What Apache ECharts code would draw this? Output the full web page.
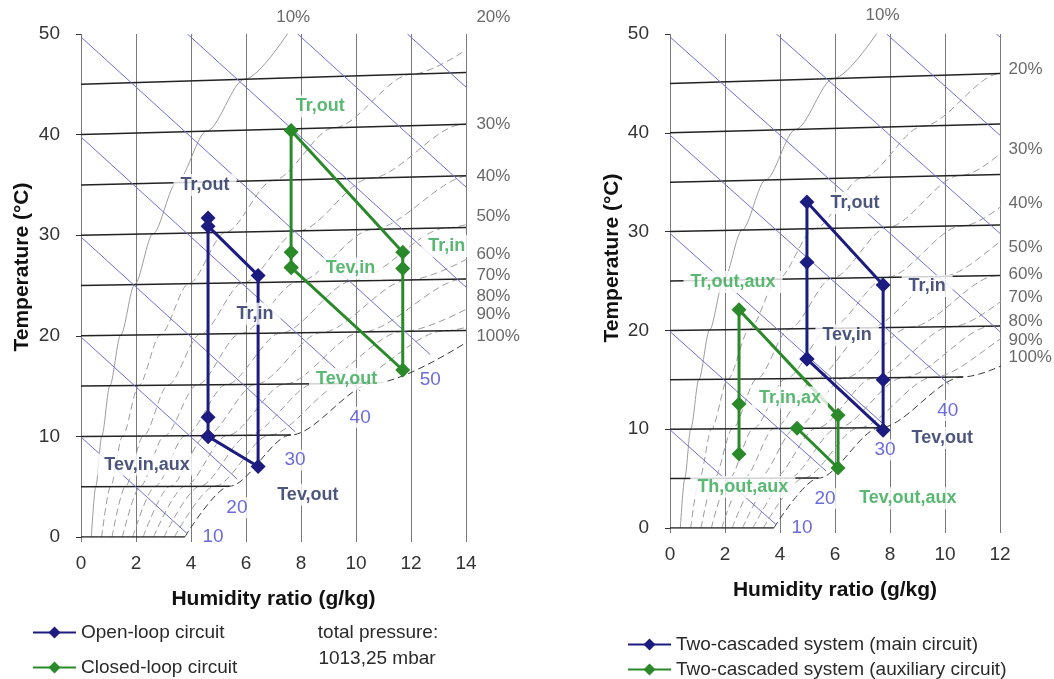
<!DOCTYPE html>
<html><head><meta charset="utf-8">
<script src="https://cdn.jsdelivr.net/npm/echarts@6/dist/echarts.min.js"></script>
<style>html,body{margin:0;padding:0;background:#fff}#c{width:1054px;height:679px}</style>
</head><body><div id="c"></div>
<script>
// ---------------- DATA ----------------
// relative-humidity curves [humidity ratio g/kg, temperature °C] (read/estimated)
const rhNames = ['10%','20%','30%','40%','50%','60%','70%','80%','90%','100%'];
const rh10 = [[0.375,0],[0.536,5.005],[0.755,10.014],[1.049,15.029],[1.439,20.053],[1.952,25.09],[2.618,30.145],[3.475,35.225],[4.566,40.338],[5.946,45.495],[7.676,50.71]];
const rh20 = [[0.751,0],[1.073,5.01],[1.512,10.028],[2.101,15.058],[2.885,20.107],[3.916,25.181],[5.258,30.292],[6.988,35.452],[9.2,40.68],[12.007,45.999],[15.544,51.437]];
const rh30 = [[1.128,0],[1.611,5.015],[2.27,10.042],[3.157,15.088],[4.338,20.16],[5.893,25.272],[7.92,30.439],[10.541,35.682],[13.903,41.028],[18.186,46.513]];
const rh40 = [[1.504,0],[2.15,5.02],[3.031,10.056],[4.217,15.117],[5.797,20.214],[7.882,25.364],[10.606,30.588],[14.135,35.915],[18.677,41.381]];
const rh50 = [[1.882,0],[2.69,5.025],[3.793,10.07],[5.28,15.146],[7.264,20.269],[9.884,25.457],[13.314,30.739],[17.77,36.15]];
const rh60 = [[2.259,0],[3.231,5.03],[4.557,10.084],[6.347,15.176],[8.737,20.323],[11.898,25.55],[16.045,30.89]];
const rh70 = [[2.638,0],[3.772,5.035],[5.323,10.098],[7.417,15.206],[10.217,20.378],[13.925,25.644],[18.8,31.043]];
const rh80 = [[3.016,0],[4.315,5.04],[6.091,10.113],[8.491,15.236],[11.704,20.433],[15.966,25.738]];
const rh90 = [[3.395,0],[4.859,5.045],[6.86,10.127],[9.569,15.265],[13.198,20.488],[18.019,25.833]];
const rh100 = [[3.775,0],[5.403,5.05],[7.632,10.141],[10.65,15.295],[14.699,20.544]];
const rhCurves = [rh10,rh20,rh30,rh40,rh50,rh60,rh70,rh80,rh90,rh100];

// isotherms (dry-bulb lines, 5 °C step)
const isothermsLeft = [
  [[0,0],[3.775,0]],[[0,5],[5.403,5.05]],[[0,10],[7.632,10.141]],[[0,15],[10.65,15.295]],
  [[0,20],[14,20.518]],[[0,25],[14,25.647]],[[0,30],[14,30.777]],[[0,35],[14,35.906]],
  [[0,40],[14,41.035]],[[0,45],[14,46.165]]
];
const isothermsRight = [
  [[0,0],[3.775,0]],[[0,5],[5.403,5.05]],[[0,10],[7.632,10.141]],[[0,15],[10.65,15.295]],
  [[0,20],[12,20.444]],[[0,25],[12,25.555]],[[0,30],[12,30.666]],[[0,35],[12,35.777]],
  [[0,40],[12,40.888]],[[0,45],[12,45.998]]
];
// enthalpy lines (10 kJ/kg step)
const enthalpyLeft = [
  [[0,9.94],[3.86,0.34]],[[0,19.88],[5.68,5.76]],[[0,29.82],[7.79,10.45]],[[0,39.76],[10.15,14.53]],
  [[0,49.70],[12.70,18.13]],[[3.87,50],[14,24.84]],[[7.88,50],[14,34.78]],[[11.87,50],[14,44.72]]
];
const enthalpyRight = [
  [[0,9.94],[3.86,0.34]],[[0,19.88],[5.68,5.76]],[[0,29.82],[7.79,10.45]],[[0,39.76],[10.15,14.53]],
  [[0,49.70],[12,19.87]],[[3.87,50],[12,29.81]],[[7.88,50],[12,39.75]],[[11.87,50],[12,49.69]]
];
const enthalpyNamesLeft = ['10','20','30','40','50'];
const enthalpyLabelPosLeft = [[4.8,0],[5.67,2.9],[7.78,7.65],[10.15,11.9],[12.7,15.6]];
const enthalpyNamesRight = ['10','20','30','40'];
const enthalpyLabelPosRight = [[4.8,0],[5.64,3.0],[7.82,7.9],[10.1,11.9]];

const rhLabelPosLeft = [[7.08,51.7],[14.36,51.7],[14.36,41.0],[14.36,35.9],[14.36,31.9],[14.36,28.1],[14.36,26.0],[14.36,23.9],[14.36,22.1],[14.36,19.9]];
const rhLabelPosRight = [[7.09,51.9],[12.29,46.4],[12.29,38.3],[12.29,32.9],[12.29,28.4],[12.29,25.7],[12.29,23.3],[12.29,20.9],[12.29,19.0],[12.29,17.3]];

// process points [humidity ratio g/kg, temperature °C]
const openLoop   = [[4.62,10.0],[4.62,11.9],[4.62,31.7],[4.62,30.9],[6.44,26.0],[6.44,7.0],[4.62,10.0]];
const closedLoop = [[7.64,26.8],[7.64,28.3],[7.64,40.4],[11.7,28.3],[11.7,26.7],[11.7,16.6],[7.64,26.8]];
const mainCircuit= [[4.98,17.1],[4.98,26.9],[4.98,33.0],[7.75,24.6],[7.75,15.0],[7.75,9.9],[4.98,17.1]];
const auxCircuit = [[2.51,7.5],[2.51,12.55],[2.51,22.1],[6.11,11.4],[6.11,6.07],[4.62,10.1]];

const seriesNames = ['Open-loop circuit','Closed-loop circuit','Two-cascaded system (main circuit)','Two-cascaded system (auxiliary circuit)'];

// point annotations
const navyLabelsLeft = ['Tr,out','Tr,in','Tev,in,aux','Tev,out'];
const navyLabelPosLeft = [[4.51,35.0],[6.33,22.2],[2.4,7.2],[8.25,4.2]];
const greenLabelsLeft = ['Tr,out','Tr,in','Tev,in','Tev,out'];
const greenLabelPosLeft = [[8.7,42.8],[13.3,28.9],[9.8,26.7],[9.66,15.7]];
const navyLabelsRight = ['Tr,out','Tr,in','Tev,in','Tev,out'];
const navyLabelPosRight = [[6.73,32.9],[9.35,24.5],[6.44,19.5],[9.9,9.1]];
const greenLabelsRight = ['Tr,out,aux','Tr,in,ax','Th,out,aux','Tev,out,aux'];
const greenLabelPosRight = [[2.29,24.9],[4.36,13.2],[2.65,4.15],[8.65,3.0]];

// ---------------- CHART ----------------
const FONT = '"Liberation Sans", Arial, sans-serif';
const NAVY = '#1c1c80', GREEN = '#2a8a2a';
const NAVY_T = '#1f2b5e', GREEN_T = '#2fa84f';

function bg(gi, isotherms, enthalpy) {
  const s = [];
  rhCurves.forEach((c, i) => s.push({
    type:'line', xAxisIndex:gi, yAxisIndex:gi, data:c, symbol:'none', smooth:0.3, smoothMonotone:'x',
    silent:true, z:2, clip:true,
    lineStyle:{color: i===9 ? '#3a3a3a' : '#9c9c9c', width:1, type: i===0 ? 'solid' : [7,4]}
  }));
  isotherms.forEach(seg => s.push({
    type:'line', xAxisIndex:gi, yAxisIndex:gi, data:seg, symbol:'none', silent:true, z:2, clip:true,
    lineStyle:{color:'#222', width:1.5}
  }));
  enthalpy.forEach(seg => s.push({
    type:'line', xAxisIndex:gi, yAxisIndex:gi, data:seg, symbol:'none', silent:true, z:2, clip:true,
    lineStyle:{color:'#6e6ed8', width:1}
  }));
  return s;
}
function labels(gi, names, pos, color, opts) {
  return Object.assign({
    type:'scatter', xAxisIndex:gi, yAxisIndex:gi, symbolSize:1, silent:true, z:8, clip:false,
    itemStyle:{color:'rgba(0,0,0,0)'},
    data: names.map((n,i)=>({name:n, value:pos[i]})),
    label:{show:true, position:'inside', formatter:'{b}', color:color, fontSize:18, fontWeight:'bold',
      fontFamily:FONT, backgroundColor:'#fff', padding:[2,7]}
  }, opts || {});
}
function rhLabels(gi, pos) {
  return {
    type:'scatter', xAxisIndex:gi, yAxisIndex:gi, symbolSize:1, silent:true, z:8, clip:false,
    itemStyle:{color:'rgba(0,0,0,0)'},
    data: rhNames.map((n,i)=>({name:n, value:pos[i]})),
    label:{show:true, position:'right', distance:0, formatter:'{b}', color:'#444', fontSize:17, fontFamily:FONT}
  };
}
function proc(gi, name, data, color) {
  return {type:'line', name:name, xAxisIndex:gi, yAxisIndex:gi, data:data, symbol:'diamond', symbolSize:15,
    showSymbol:true, color:color, itemStyle:{color:color}, lineStyle:{color:color, width:3}, z:5, clip:false};
}

const xAx = (gi, max) => ({
  gridIndex:gi, type:'value', min:0, max:max, interval:2,
  axisLine:{show:false}, axisTick:{show:true, length:5, lineStyle:{color:'#777'}},
  splitLine:{show:true, lineStyle:{color:'#7a7a7a', width:1}},
  axisLabel:{fontSize:19, color:'#333', margin:17, fontFamily:FONT},
  name:'Humidity ratio (g/kg)', nameLocation:'middle', nameGap:52,
  nameTextStyle:{fontSize:21, fontWeight:'bold', color:'#111', fontFamily:FONT}
});
const yAx = (gi) => ({
  gridIndex:gi, type:'value', min:0, max:50, interval:10,
  axisLine:{show:false}, axisTick:{show:true, length:5, lineStyle:{color:'#333'}},
  splitLine:{show:false},
  axisLabel:{fontSize:19, color:'#333', margin:21, fontFamily:FONT}
});

const legendBase = {orient:'horizontal', itemWidth:43, itemHeight:15, selectedMode:false,
  textStyle:{fontSize:19, color:'#2a2a2a', fontFamily:FONT}};

const option = {
  animation:false,
  backgroundColor:'#fff',
  textStyle:{fontFamily:FONT},
  grid:[
    {left:81, top:34, width:385, height:503},
    {left:670, top:34, width:330, height:494}
  ],
  xAxis:[xAx(0,14), xAx(1,12)],
  yAxis:[yAx(0), yAx(1)],
  legend:[
    Object.assign({data:[seriesNames[0]], left:27, top:618}, legendBase),
    Object.assign({data:[seriesNames[1]], left:27, top:653}, legendBase),
    Object.assign({data:[seriesNames[2]], left:622, top:630}, legendBase),
    Object.assign({data:[seriesNames[3]], left:622, top:655}, legendBase)
  ],
  graphic:[
    {type:'text', x:22, y:267, rotation:Math.PI/2, style:{text:'Temperature (°C)', fontSize:21, fontWeight:'bold', fill:'#111', fontFamily:FONT, align:'center', verticalAlign:'middle'}},
    {type:'text', x:612, y:258, rotation:Math.PI/2, style:{text:'Temperature (°C)', fontSize:21, fontWeight:'bold', fill:'#111', fontFamily:FONT, align:'center', verticalAlign:'middle'}},
    {type:'text', x:378, y:633, style:{text:'total pressure:', fontSize:19, fill:'#2a2a2a', fontFamily:FONT, align:'center', verticalAlign:'middle'}},
    {type:'text', x:377, y:659, style:{text:'1013,25 mbar', fontSize:19, fill:'#2a2a2a', fontFamily:FONT, align:'center', verticalAlign:'middle'}}
  ],
  series:[].concat(
    bg(0, isothermsLeft, enthalpyLeft),
    bg(1, isothermsRight, enthalpyRight),
    [
      proc(0, seriesNames[0], openLoop, NAVY),
      proc(0, seriesNames[1], closedLoop, GREEN),
      proc(1, seriesNames[2], mainCircuit, NAVY),
      proc(1, seriesNames[3], auxCircuit, GREEN),
      labels(0, navyLabelsLeft, navyLabelPosLeft, NAVY_T),
      labels(0, greenLabelsLeft, greenLabelPosLeft, GREEN_T),
      labels(1, navyLabelsRight, navyLabelPosRight, NAVY_T),
      labels(1, greenLabelsRight, greenLabelPosRight, GREEN_T),
      labels(0, enthalpyNamesLeft, enthalpyLabelPosLeft, '#4646d2', {label:{show:true, position:'inside', formatter:'{b}', color:'#4646d2', fontSize:19, fontFamily:FONT, backgroundColor:'#fff', padding:[1,2]}}),
      labels(1, enthalpyNamesRight, enthalpyLabelPosRight, '#4646d2', {label:{show:true, position:'inside', formatter:'{b}', color:'#4646d2', fontSize:19, fontFamily:FONT, backgroundColor:'#fff', padding:[1,2]}}),
      rhLabels(0, rhLabelPosLeft),
      rhLabels(1, rhLabelPosRight)
    ]
  )
};
const chart = echarts.init(document.getElementById('c'), null, {renderer:'canvas'});
chart.setOption(option);
</script></body></html>
